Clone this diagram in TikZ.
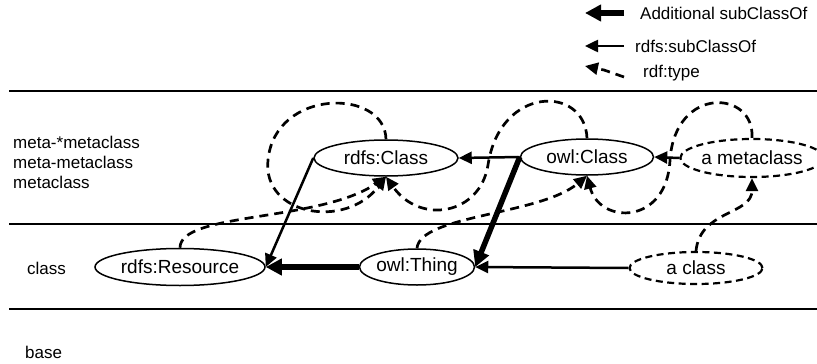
\documentclass[tikz,border=0pt]{standalone}
\usepackage{fontspec}
\setmainfont{Liberation Sans}
\usetikzlibrary{arrows.meta,shapes.geometric}

\tikzset{
  cls/.style={ellipse, draw, line width=1.5pt, inner sep=0pt, minimum height=36pt,
    font=\fontsize{19}{22}\selectfont},
  dcls/.style={cls, line width=2.2pt, dash pattern=on 7pt off 4.5pt},
  subcls/.style={line width=2.5pt, -{Triangle[length=13pt,width=12pt]}},
  addsub/.style={line width=5.5pt, -{Triangle[length=16pt,width=16pt]}},
  rdftype/.style={line width=2.7pt, dash pattern=on 9pt off 6pt,
    -{Triangle[length=13pt,width=12pt]}},
  lbl/.style={font=\fontsize{17}{20}\selectfont, inner sep=0pt}
}

\begin{document}
\begin{tikzpicture}[x=1pt,y=-1pt]
            \useasboundingbox (0,0) rectangle (817,364);
            {
            
            % Drawing layer lines
            \draw [line width=1.7pt] (9,91) -- (817,91);%
            \draw [line width=1.7pt] (9,224) -- (817,224);%
            \draw [line width=1.7pt] (9,309) -- (817,309);%
            
            % Marking layer names
            \node [lbl, anchor=west, align=left] (lvMeta) at (13,162) {meta-*metaclass\\meta-metaclass\\metaclass};%
            \node [lbl, anchor=west] (lvClass) at (27,268) {class};%
            \node [lbl, anchor=west] (lvBase) at (25,352) {base};%
            
            % Marking legend
            \coordinate (lgAddS) at (624,13);%
            \coordinate (lgAddE) at (585,13);%
            \coordinate (lgSubS) at (624,46);%
            \coordinate (lgSubE) at (585,46);%
            \coordinate (lgTypS) at (624,77);%
            \coordinate (lgTypM) at (604,70);%
            \coordinate (lgTypE) at (585,66);%
            \draw [addsub] (lgAddS) -- (lgAddE);%
            \draw [subcls] (lgSubS) -- (lgSubE);%
            \draw [rdftype] (lgTypS) -- (lgTypM) -- (lgTypE);%
            \node [lbl, anchor=west] (lgAdd) at (640,13) {Additional subClassOf};%
            \node [lbl, anchor=west] (lgSub) at (635,46) {rdfs:subClassOf};%
            \node [lbl, anchor=west] (lgTyp) at (643,73) {rdf:type};%
            
            % Marking class nodes
            \node [cls, minimum width=144pt] (rC) at (386,158) {rdfs:Class};%
            \node [cls, minimum width=133pt] (oC) at (587,157) {owl:Class};%
            \node [dcls, minimum width=125pt, minimum height=38pt] (aM) at (752,158) {a metaclass};%
            \node [cls, minimum width=170pt, minimum height=37pt] (rR) at (180,267) {rdfs:Resource};%
            \node [cls, minimum width=109pt] (oT) at (417,267) {owl:Thing};%
            \node [dcls, minimum width=133pt, minimum height=32pt] (aC) at (696,268) {a class};%
            
            % Drawing subClassOf
            \draw [subcls] (rC.west) -- (rR.east);%
            \draw [subcls] (oC.west) -- (rC.east);%
            \draw [subcls] (aM.west) -- (oC.east);%
            \draw [subcls] (aC.west) -- (oT.east);%
            
            % Drawing additional subClassOf
            \draw [addsub] (oT.west) -- (rR.east);%
            \draw [addsub] (oC.west) -- (oT.east);%
            
            % Drawing rdf:type
            \draw [rdftype] (rC.north) .. controls (385,88) and (275,88) .. (268,160) .. controls (262,215) and (345,230) .. (rC.south);%
            \draw [rdftype] (rR.north) .. controls (180,212) and (320,222) .. (rC.south);%
            \draw [rdftype] (oC.north) .. controls (585,85) and (500,85) .. (488,165) .. controls (480,215) and (420,225) .. (rC.south);%
            \draw [rdftype] (oT.north) .. controls (420,215) and (540,215) .. (oC.south);%
            \draw [rdftype] (aM.north) .. controls (755,90) and (675,85) .. (670,160) .. controls (667,225) and (600,225) .. (oC.south);%
            \draw [rdftype] (aC.north) .. controls (700,210) and (752,215) .. (aM.south);%
            }
\end{tikzpicture}
\end{document}
